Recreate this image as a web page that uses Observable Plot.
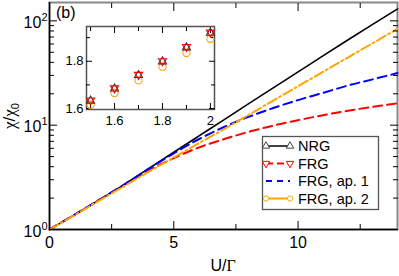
<!DOCTYPE html>
<html><head><meta charset="utf-8">
<script src="https://cdn.jsdelivr.net/npm/d3@7"></script>
<script src="https://cdn.jsdelivr.net/npm/@observablehq/plot@0.6"></script>
<style>
body{margin:0;background:#fff;}
#wrap{position:relative;width:399px;height:276px;overflow:hidden;}
#inset{position:absolute;left:50px;top:25px;}
svg{overflow:visible;}
</style></head><body>
<div id="wrap"><div id="main"></div><div id="inset"></div></div>
<script>
// ---- data ----
const U       = [0, 1, 2, 3, 4, 5, 6, 7, 8, 9, 10, 11, 12, 13, 14];
const nrg     = [1, 1.38, 1.92, 2.69, 3.85, 5.5, 7.85, 11.2, 16.0, 22.8, 32.4, 46.2, 65.5, 92.5, 130];
const frg     = [1, 1.38, 1.92, 2.67, 3.7, 4.84, 6.1, 7.33, 8.61, 9.89, 11.17, 12.45, 13.74, 15.0, 16.2];
const frgAp1  = [1, 1.38, 1.92, 2.69, 3.83, 5.37, 7.33, 9.55, 12.0, 14.6, 17.4, 20.4, 24.0, 27.5, 31.6];
const frgAp2  = [1, 1.37, 1.89, 2.6, 3.58, 4.9, 6.7, 9.1, 12.5, 17.2, 23.6, 32.4, 44.5, 61, 84];

const insetU   = [1.5, 1.6, 1.7, 1.8, 1.9, 2.0];
const insetNRG = [1.633, 1.684, 1.741, 1.799, 1.858, 1.920];
const insetFRG = [1.635, 1.686, 1.743, 1.801, 1.861, 1.922];
const insetAp2 = [1.616, 1.666, 1.719, 1.777, 1.835, 1.895];

const seriesNames  = ["NRG", "FRG", "FRG, ap. 1", "FRG, ap. 2"];
const seriesColors = ["#000000", "#ff0000", "#0000ff", "#ffa500"];
const seriesDash   = [null, "9,5", "9,5", "10,3,2,3"];

const xMajor = [0, 5, 10];
const xMinor = [2.5, 7.5, 12.5];
const yMajor = [1, 10, 100];
const yMinor = [2,3,4,5,6,7,8,9,20,30,40,50,60,70,80,90];
const yExp   = {1: "0", 10: "1", 100: "2"};

const insXMajor = [1.6, 1.8, 2.0];
const insXMinor = [1.5, 1.7, 1.9];
const insYMajor = [1.6, 1.8];
const insYMinor = [1.7, 1.9];
const insXLabels = {1.6: "1.6", 1.8: "1.8", 2: "2"};

// ---- main plot ----
const allSeries = [nrg, frg, frgAp1, frgAp2];
const rows = allSeries.flatMap((vals, k) => U.map((u, i) => ({u, v: vals[i], k})));
const font = "'Liberation Sans', Arial, Helvetica, sans-serif";

const lineMarks = allSeries.map((vals, k) =>
  Plot.line(rows.filter(d => d.k === k), {
    x: "u", y: "v", stroke: seriesColors[k], strokeWidth: k === 0 ? 1.6 : 2,
    strokeDasharray: seriesDash[k], curve: "monotone-x"
  }));

const main = Plot.plot({
  width: 399, height: 276,
  marginLeft: 49, marginRight: 2, marginTop: 2, marginBottom: 47,
  x: {domain: [0, 14]},
  y: {type: "log", domain: [1, 150]},
  style: {fontFamily: font, fontSize: "16px", color: "black", background: "white"},
  marks: [
    Plot.frame({stroke: "#888", strokeWidth: 2}),
    ...lineMarks,
    Plot.axisX({ticks: xMajor, tickSize: -8, tickFormat: () => "", label: null}),
    Plot.axisX({ticks: xMinor, tickSize: -5, tickFormat: () => "", label: null}),
    Plot.axisX({anchor: "top", ticks: xMajor, tickSize: -8, tickFormat: () => "", label: null}),
    Plot.axisX({anchor: "top", ticks: xMinor, tickSize: -5, tickFormat: () => "", label: null}),
    Plot.axisX({ticks: xMajor, tickSize: 0, tickPadding: 7, label: null, fontSize: 16}),
    Plot.axisY({ticks: yMajor, tickSize: -8, tickFormat: () => "", label: null}),
    Plot.axisY({ticks: yMinor, tickSize: -5, tickFormat: () => "", label: null}),
    Plot.axisY({anchor: "right", ticks: yMajor, tickSize: -8, tickFormat: () => "", label: null}),
    Plot.axisY({anchor: "right", ticks: yMinor, tickSize: -5, tickFormat: () => "", label: null}),
    Plot.axisY({ticks: yMajor, tickSize: 0, tickPadding: 2, label: null, fontSize: 16,
                tickFormat: d => "10^" + yExp[d], dy: 2}),
    Plot.ruleX([0], {stroke: "black", strokeWidth: 1.5}),
    Plot.ruleY([1], {stroke: "black", strokeWidth: 1.5})
  ]
});
document.getElementById("main").appendChild(main);

const svg = d3.select(main);
// superscripts on y tick labels
svg.selectAll('g[aria-label="y-axis tick label"] text').each(function () {
  const t = this.textContent;
  if (t.includes("^")) {
    const [b, e] = t.split("^");
    const s = d3.select(this);
    s.text(null);
    s.append("tspan").text(b);
    s.append("tspan").attr("dy", "-7").attr("font-size", "11px").text(e);
  }
});

// axis titles and panel label
const tx = svg.append("text").attr("x", 223).attr("y", 271).attr("text-anchor", "middle")
  .attr("font-family", font).attr("font-size", 16).attr("fill", "black");
tx.append("tspan").text("U/");
tx.append("tspan").attr("font-family", "'Liberation Serif', serif").text("Γ");

const ty = svg.append("text").attr("transform", "translate(15,116) rotate(-90)")
  .attr("text-anchor", "middle").attr("font-family", font).attr("font-size", 17).attr("fill", "black");
ty.append("tspan").attr("font-family", "'Liberation Serif', serif").text("χ");
ty.append("tspan").text("/");
ty.append("tspan").attr("font-family", "'Liberation Serif', serif").text("χ");
ty.append("tspan").attr("dy", 4).attr("font-size", 11).text("0");

svg.append("text").attr("x", 56).attr("y", 18).attr("text-anchor", "start").attr("font-family", font)
  .attr("font-size", 16).attr("fill", "black").text("(b)");

// legend
const lg = svg.append("g").attr("text-anchor", "start");
lg.append("rect").attr("x", 262.5).attr("y", 136.5).attr("width", 116).attr("height", 73)
  .attr("fill", "white").attr("stroke", "#555").attr("stroke-width", 1.3);
const legY = [146, 163.5, 181, 198.5];
const legSym = [d3.symbolTriangle, d3.symbolTriangle, null, d3.symbolCircle];
seriesNames.forEach((name, k) => {
  const y = legY[k];
  lg.append("line").attr("x1", 266).attr("x2", 290).attr("y1", y).attr("y2", y)
    .attr("stroke", seriesColors[k]).attr("stroke-width", k === 0 ? 1.5 : 2)
    .attr("stroke-dasharray", k === 1 ? "7,4" : k === 2 ? "6,5" : null);
  if (legSym[k]) {
    [266, 290].forEach(x => {
      lg.append("path").attr("d", d3.symbol(legSym[k], k === 3 ? 22 : 24)())
        .attr("transform", `translate(${x},${y})` + (k === 1 ? " rotate(180)" : ""))
        .attr("fill", "white").attr("stroke", k === 0 ? "#444" : seriesColors[k]).attr("stroke-width", 1);
    });
  }
  lg.append("text").attr("x", 298).attr("y", y + 5).attr("text-anchor", "start").attr("font-family", font)
    .attr("font-size", 14.5).attr("fill", "black").text(name);
});

// ---- inset ----
const inRows = insetU.map((u, i) => ({u, nrg: insetNRG[i], frg: insetFRG[i], ap2: insetAp2[i]}));
const inset = Plot.plot({
  width: 36 + 128 + 2, height: 1 + 83 + 18,
  marginLeft: 36, marginRight: 2, marginTop: 1, marginBottom: 18,
  x: {domain: [1.483, 2.017]},
  y: {domain: [1.596, 1.947]},
  style: {fontFamily: font, fontSize: "13px", color: "black", background: "transparent"},
  marks: [
    Plot.frame({fill: "white", stroke: "#555", strokeWidth: 1.5}),
    Plot.axisX({ticks: insXMajor, tickSize: -6, tickFormat: () => "", label: null}),
    Plot.axisX({ticks: insXMinor, tickSize: -4, tickFormat: () => "", label: null}),
    Plot.axisX({anchor: "top", ticks: insXMajor, tickSize: -6, tickFormat: () => "", label: null}),
    Plot.axisX({anchor: "top", ticks: insXMinor, tickSize: -4, tickFormat: () => "", label: null}),
    Plot.axisY({ticks: insYMajor, tickSize: -6, tickFormat: () => "", label: null}),
    Plot.axisY({ticks: insYMinor, tickSize: -4, tickFormat: () => "", label: null}),
    Plot.axisY({anchor: "right", ticks: insYMajor, tickSize: -6, tickFormat: () => "", label: null}),
    Plot.axisY({anchor: "right", ticks: insYMinor, tickSize: -4, tickFormat: () => "", label: null}),
    Plot.axisX({ticks: insXMajor, tickSize: 0, tickPadding: 6, label: null, fontSize: 13,
                tickFormat: d => insXLabels[+d.toFixed(1)]}),
    Plot.axisY({ticks: insYMajor, tickSize: 0, tickPadding: 3, label: null, fontSize: 13,
                tickFormat: d => d.toFixed(1)}),
    Plot.dot(inRows, {x: "u", y: "ap2", symbol: "circle", r: 3.6, stroke: seriesColors[3], fill: "none", strokeWidth: 1.1}),
    Plot.dot(inRows, {x: "u", y: "nrg", symbol: "triangle", r: 3.0, stroke: "#333", fill: "none", strokeWidth: 1.1}),
    Plot.dot(inRows, {x: "u", y: "frg", symbol: "triangle", r: 3.0, rotate: 180, stroke: seriesColors[1], fill: "none", strokeWidth: 1.1})
  ]
});
document.getElementById("inset").appendChild(inset);
</script>
</body></html>
